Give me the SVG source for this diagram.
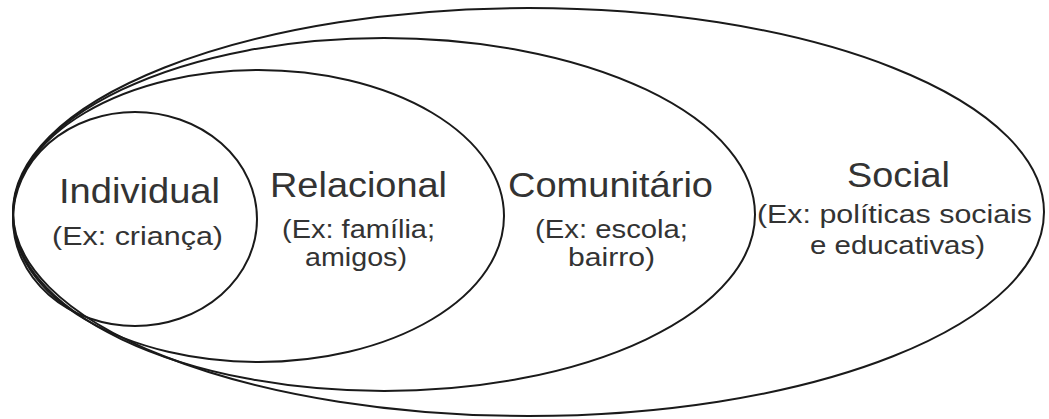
<svg xmlns="http://www.w3.org/2000/svg" width="1049" height="419" viewBox="0 0 1049 419">
<style>
.ring{fill:none;stroke:#1a1a1a;stroke-width:2}
.t{font-family:"Liberation Sans",Arial,sans-serif;fill:#333;}
.h{font-size:35px}
.s{font-size:26px}
</style>
<rect width="1049" height="419" fill="#fff"/>
<g id="social">
<ellipse class="ring" cx="528.5" cy="212" rx="515.5" ry="204"/>
<text class="t h" x="847" y="187" textLength="103" lengthAdjust="spacingAndGlyphs">Social</text>
<text class="t s" x="757" y="223" textLength="275" lengthAdjust="spacingAndGlyphs">(Ex: políticas sociais</text>
<text class="t s" x="810" y="254" textLength="175" lengthAdjust="spacingAndGlyphs">e educativas)</text>
</g>
<g id="comunitario">
<ellipse class="ring" cx="384" cy="214.5" rx="371" ry="176.5"/>
<text class="t h" x="508" y="197" textLength="205" lengthAdjust="spacingAndGlyphs">Comunitário</text>
<text class="t s" x="535" y="238" textLength="153" lengthAdjust="spacingAndGlyphs">(Ex: escola;</text>
<text class="t s" x="568" y="266" textLength="87" lengthAdjust="spacingAndGlyphs">bairro)</text>
</g>
<g id="relacional">
<ellipse class="ring" cx="258.5" cy="216" rx="245.5" ry="146"/>
<text class="t h" x="270" y="197" textLength="177" lengthAdjust="spacingAndGlyphs">Relacional</text>
<text class="t s" x="282" y="238" textLength="153" lengthAdjust="spacingAndGlyphs">(Ex: família;</text>
<text class="t s" x="305" y="266" textLength="102" lengthAdjust="spacingAndGlyphs">amigos)</text>
</g>
<g id="individual">
<ellipse class="ring" cx="135" cy="219" rx="122" ry="107"/>
<text class="t h" x="59" y="203" textLength="161" lengthAdjust="spacingAndGlyphs">Individual</text>
<text class="t s" x="52" y="245" textLength="171" lengthAdjust="spacingAndGlyphs">(Ex: criança)</text>
</g>
</svg>
